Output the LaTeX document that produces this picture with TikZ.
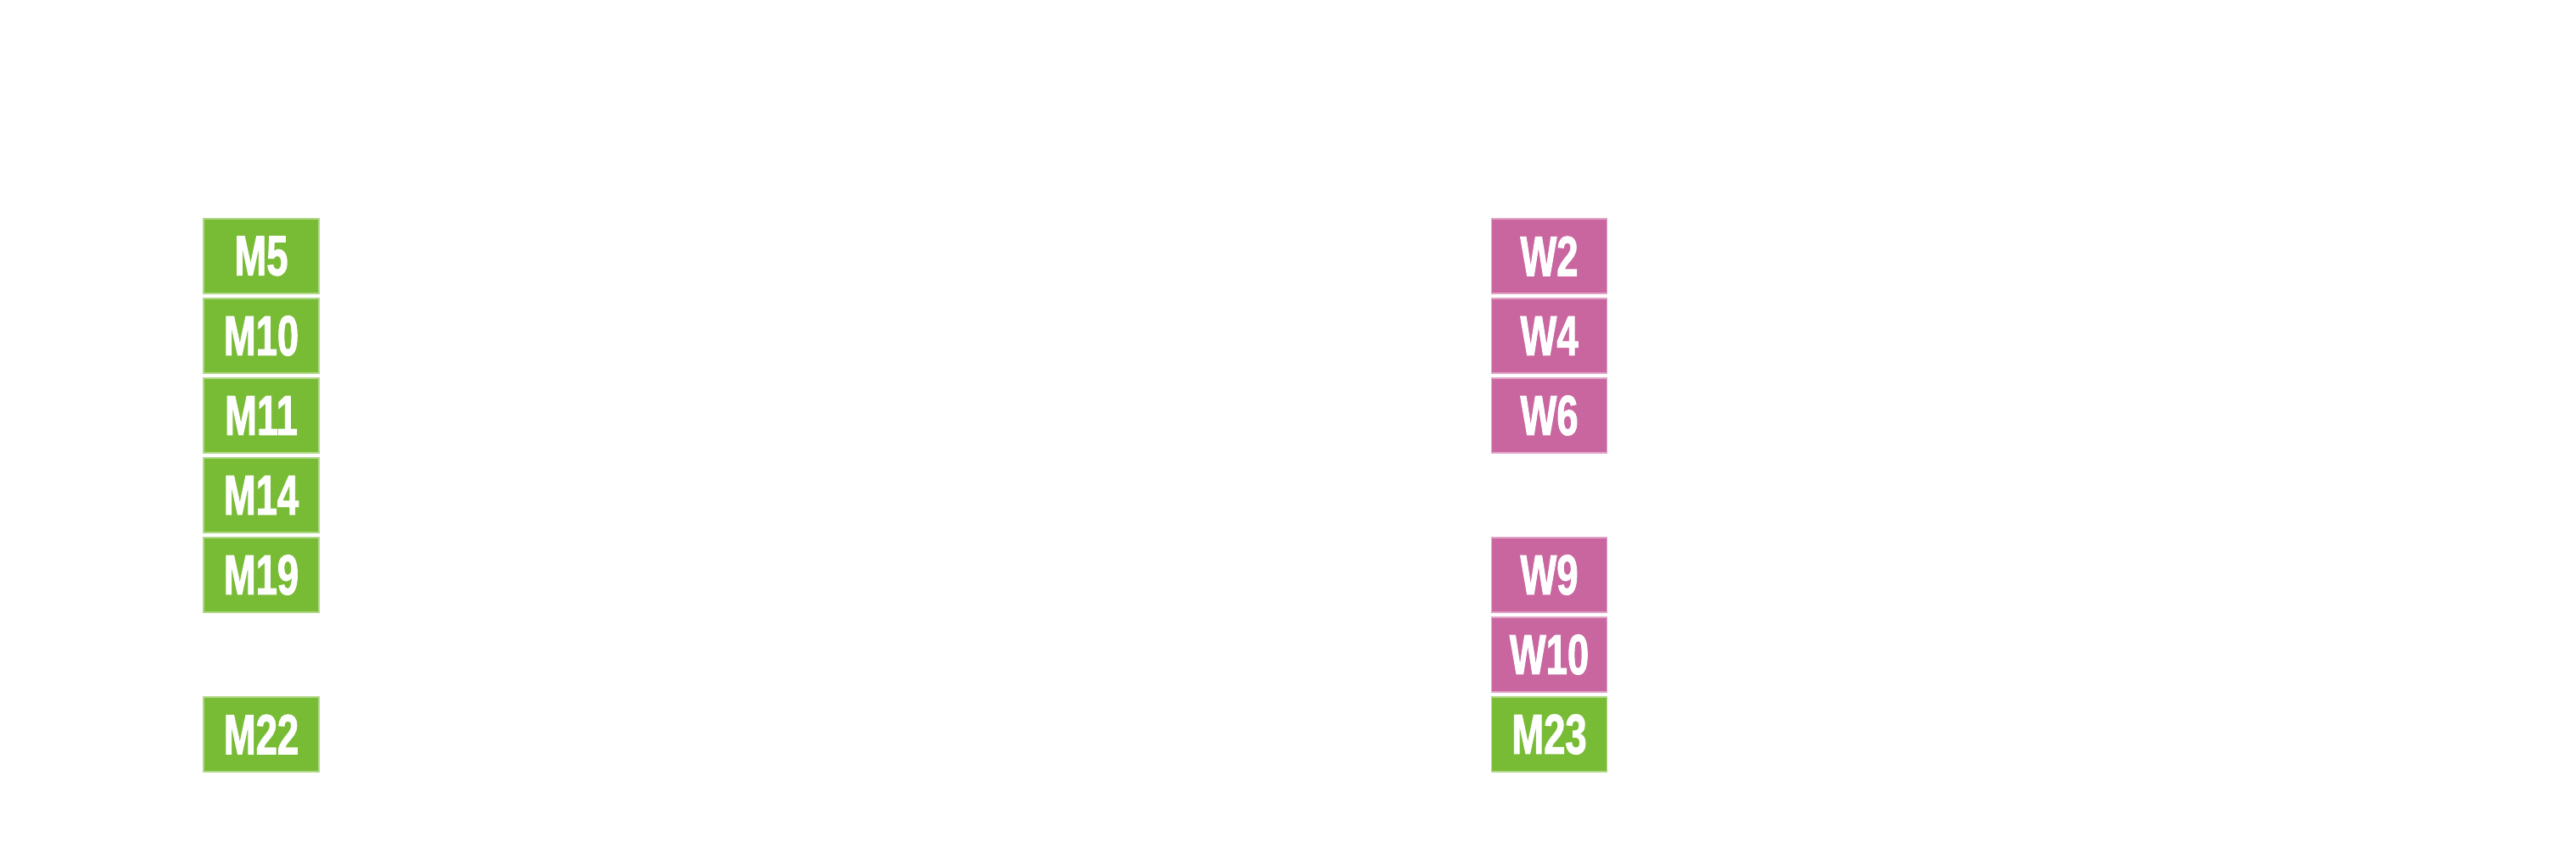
\documentclass[tikz,border=0pt]{standalone}
\usepackage{fontspec}
\newfontfamily\tagfont[FakeStretch=0.68,FakeBold=1.4,UprightFont={* Bold}]{Liberation Sans}
\usetikzlibrary{positioning}
\definecolor{mgreen}{HTML}{78BC36}
\definecolor{wpink}{HTML}{C966A0}

\begin{document}
\begin{tikzpicture}[
    tag/.style={minimum width=1.36cm, minimum height=0.88cm, inner sep=0pt,
        text=white, font=\tagfont\fontsize{19}{19}\selectfont},
    mtag/.style={tag, fill=mgreen, draw=mgreen!60!white, line width=0.4pt},
    wtag/.style={tag, fill=wpink, draw=wpink!60!white, line width=0.4pt}]
        \useasboundingbox (0,0) rectangle (30.37,10);

        % Left column
        \node[mtag] (M5) at (3.08,6.98) {M5};
        \node[mtag] (M10) at (3.08,6.04) {M10};
        \node[mtag] (M11) at (3.08,5.10) {M11};
        \node[mtag] (M14) at (3.08,4.16) {M14};
        \node[mtag] (M19) at (3.08,3.22) {M19};
        \node[mtag] (M22) at (3.08,1.34) {M22};

        % Right column
        \node[wtag] (W2) at (18.265,6.98) {W2};
        \node[wtag] (W4) at (18.265,6.04) {W4};
        \node[wtag] (W6) at (18.265,5.10) {W6};
        \node[wtag] (W9) at (18.265,3.22) {W9};
        \node[wtag] (W10) at (18.265,2.28) {W10};
        \node[mtag] (M23) at (18.265,1.34) {M23};

    \end{tikzpicture}
\end{document}
